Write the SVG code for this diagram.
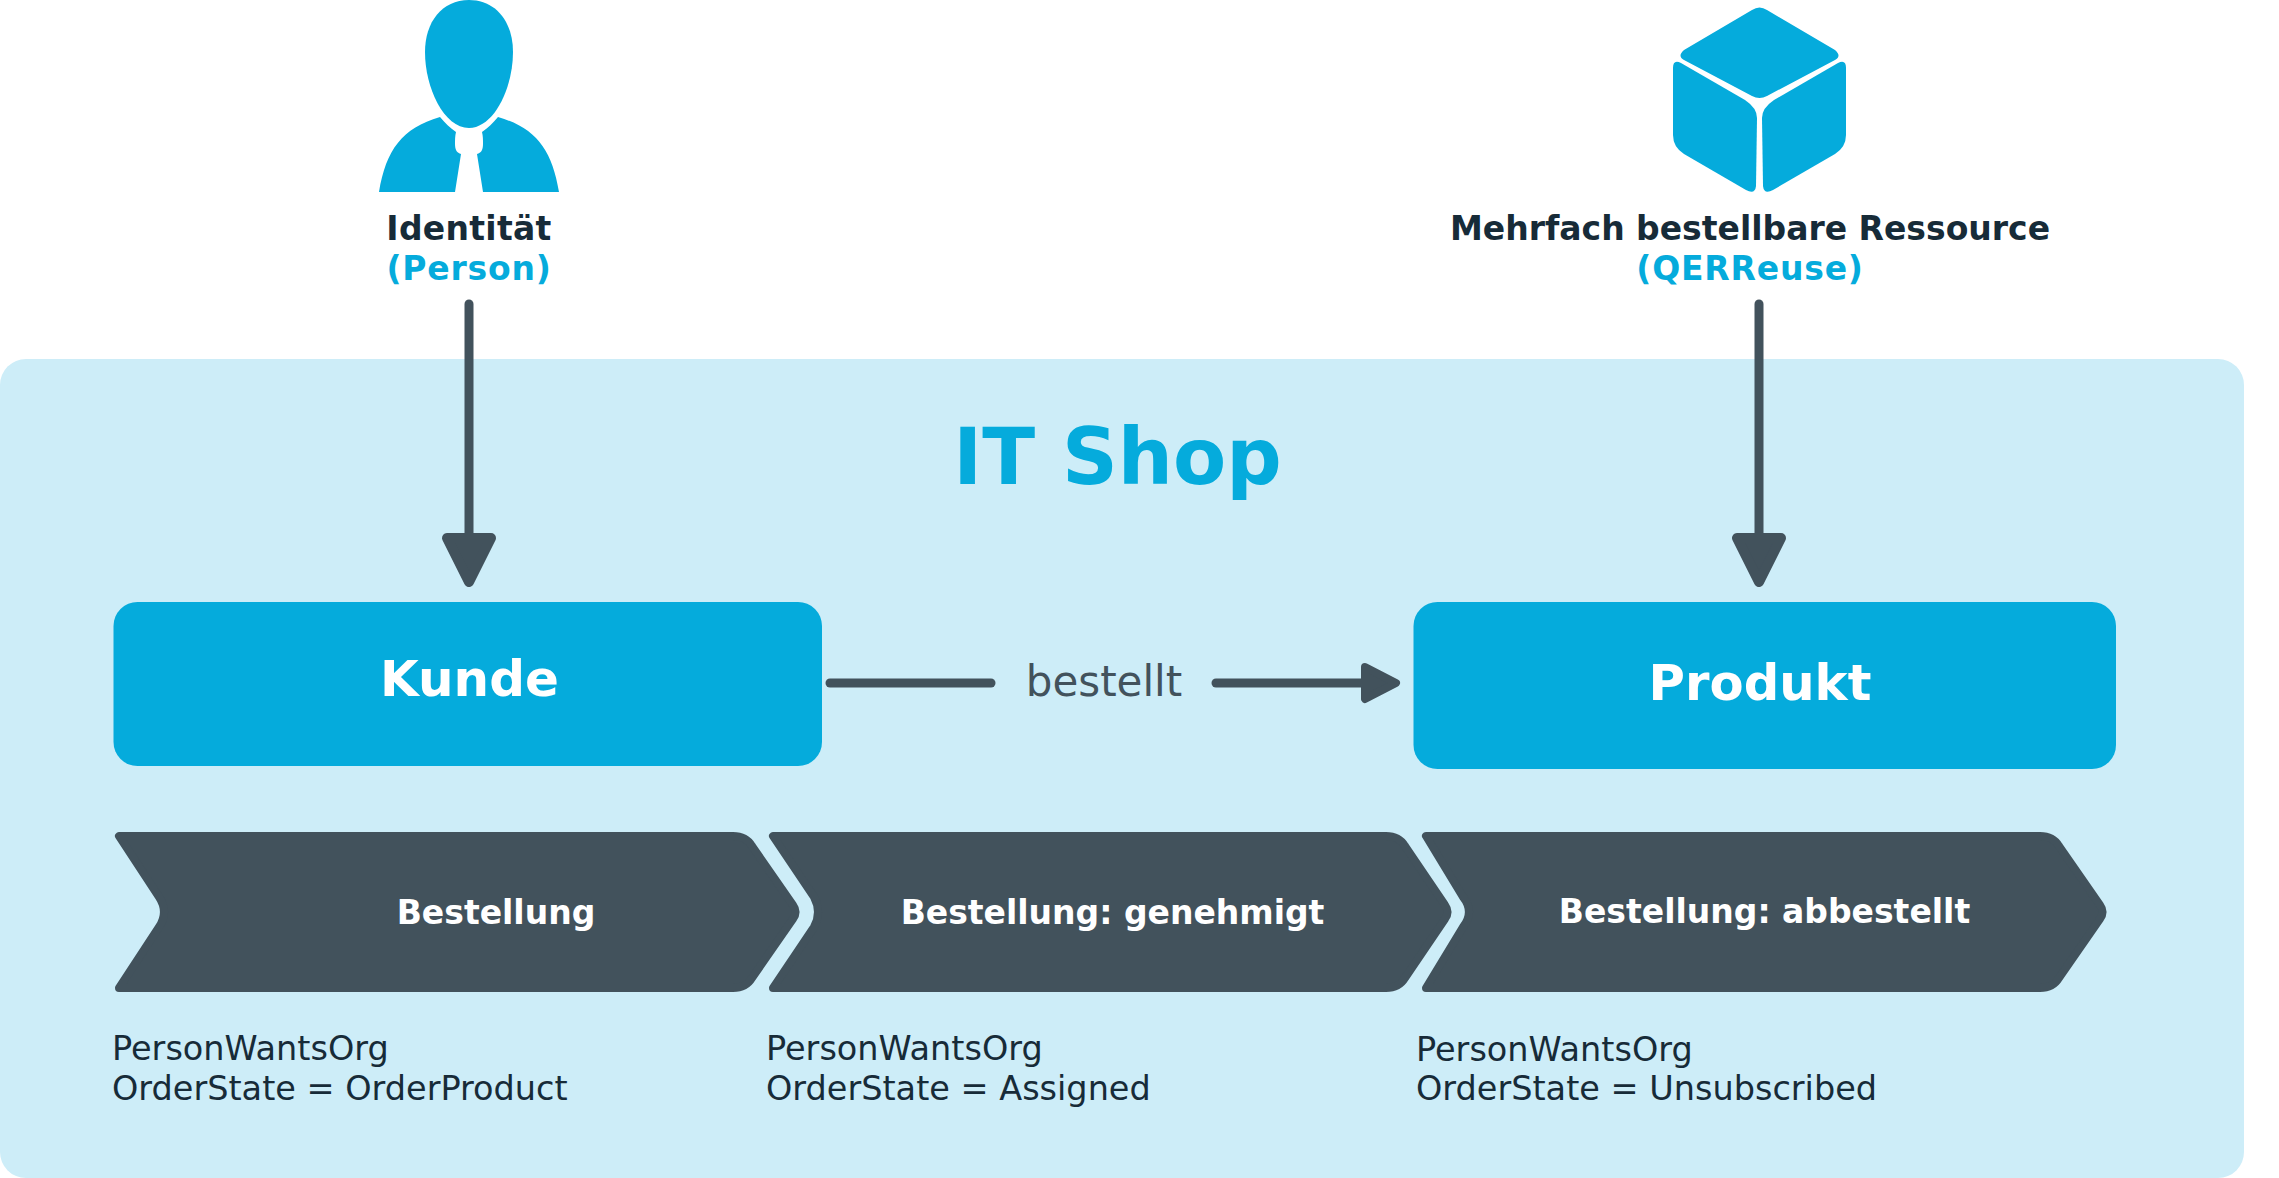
<svg xmlns="http://www.w3.org/2000/svg" width="2279" height="1178" viewBox="0 0 2279 1178">
<style>
text{font-family:"DejaVu Sans","Liberation Sans",sans-serif}
.b{font-weight:700}
.m{text-anchor:middle}
.blue{fill:#05abdc}
.dark{fill:#172b38}
.wh{fill:#fff}
.chev{fill:#42525c;stroke:#42525c;stroke-width:8;stroke-linejoin:round}
.ln{stroke:#42525c;stroke-width:9;stroke-linecap:round;fill:none}
.attr{font-size:33.500px;fill:#172b38}
.step{font-size:33px;fill:#fff;font-weight:700;text-anchor:middle}
</style>
<defs>
<marker id="headL" markerUnits="userSpaceOnUse" markerWidth="70" markerHeight="70" viewBox="0 0 70 70" refX="8" refY="35" orient="auto"><path d="M8 13L52 35L8 57Z" fill="#42525c" stroke="#42525c" stroke-width="10" stroke-linejoin="round"/></marker>
<marker id="headS" markerUnits="userSpaceOnUse" markerWidth="60" markerHeight="60" viewBox="0 0 60 60" refX="6" refY="30" orient="auto"><path d="M6 14L37 30L6 46Z" fill="#42525c" stroke="#42525c" stroke-width="8" stroke-linejoin="round"/></marker>
</defs>
<rect id="panel" x="0" y="359" width="2244" height="819" rx="26" fill="#cdedf8"/>
<text id="title" x="1117.500" y="484" class="b m blue" font-size="77.500">IT Shop</text>
<g id="identity">
<path class="blue" d="M469 0C496 0 513 22 513 52C513 88 494 128 469 128C444 128 425 88 425 52C425 22 442 0 469 0Z"/>
<path class="blue" d="M440 117C445 123 450 128 456 132C455 136 455 140 455 144C455 150 457 153 461 154L455 192H379C386 150 402 128 440 117Z"/>
<path class="blue" d="M498 117C493 123 488 128 482 132C483 136 483 140 483 144C483 150 481 153 477 154L483 192H559C552 150 536 128 498 117Z"/>
<text x="469" y="240" class="b m dark" font-size="33" letter-spacing="0.300">Identität</text>
<text x="469" y="280" class="b m blue" font-size="33" letter-spacing="0.800">(Person)</text>
</g>
<g id="resource">
<path class="blue" d="M1752 10Q1759.500 5 1767 10L1835 50Q1842 56 1835 60L1767 96Q1759.500 100 1752 96L1684 60Q1677 56 1684 50Z"/>
<path class="blue" d="M1673 68Q1673 59 1681 63L1745 100Q1757 108 1757 118L1756 186Q1755 195 1746 190L1684 154Q1673 147 1673 135Z"/>
<path class="blue" d="M1846 68Q1846 59 1838 63L1774 100Q1762 108 1762 118L1763 186Q1764 195 1773 190L1835 154Q1846 147 1846 135Z"/>
<text x="1750" y="240" class="b m dark" font-size="33">Mehrfach bestellbare Ressource</text>
<text x="1750" y="280" class="b m blue" font-size="33" letter-spacing="0.800">(QERReuse)</text>
</g>
<g id="kunde">
<rect x="113.500" y="602" width="708.500" height="164" rx="24" class="blue"/>
<text x="469.500" y="696" class="b m wh" font-size="50">Kunde</text>
</g>
<g id="produkt">
<rect x="1413.500" y="602" width="702.500" height="167" rx="24" class="blue"/>
<text x="1760" y="700" class="b m wh" font-size="49.700">Produkt</text>
</g>
<g id="connectors">
<line class="ln" x1="469" y1="304" x2="469" y2="538" marker-end="url(#headL)"/>
<line class="ln" x1="1759" y1="304" x2="1759" y2="538" marker-end="url(#headL)"/>
<line class="ln" x1="830" y1="683" x2="991" y2="683"/>
<line class="ln" x1="1216" y1="683" x2="1365" y2="683" marker-end="url(#headS)"/>
</g>
<text id="edge-label" x="1104" y="696" class="m" font-size="42" fill="#42525c">bestellt</text>
<g id="step1">
<path class="chev" d="M119 836H733Q746 836 752 846L793 905Q798 912 793 919L752 978Q746 988 733 988H119L159 927Q169 912 159 897Z"/>
<text x="496" y="924" class="step">Bestellung</text>
<text x="112" y="1060" class="attr">PersonWantsOrg</text>
<text x="112" y="1100" class="attr">OrderState = OrderProduct</text>
</g>
<g id="step2">
<path class="chev" d="M773 836H1386Q1399 836 1405 846L1445 905Q1450 912 1445 919L1405 978Q1399 988 1386 988H773L814 927Q822 912 814 897Z"/>
<text x="1112.500" y="924" class="step">Bestellung: genehmigt</text>
<text x="766" y="1060" class="attr">PersonWantsOrg</text>
<text x="766" y="1100" class="attr">OrderState = Assigned</text>
</g>
<g id="step3">
<path class="chev" d="M1426 836H2040Q2053 836 2059 846L2100 905Q2105 912 2100 919L2059 978Q2053 988 2040 988H1426L1463 927Q1475 912 1463 897Z"/>
<text x="1764.500" y="923" class="step">Bestellung: abbestellt</text>
<text x="1416" y="1061" class="attr">PersonWantsOrg</text>
<text x="1416" y="1100" class="attr">OrderState = Unsubscribed</text>
</g>
</svg>
